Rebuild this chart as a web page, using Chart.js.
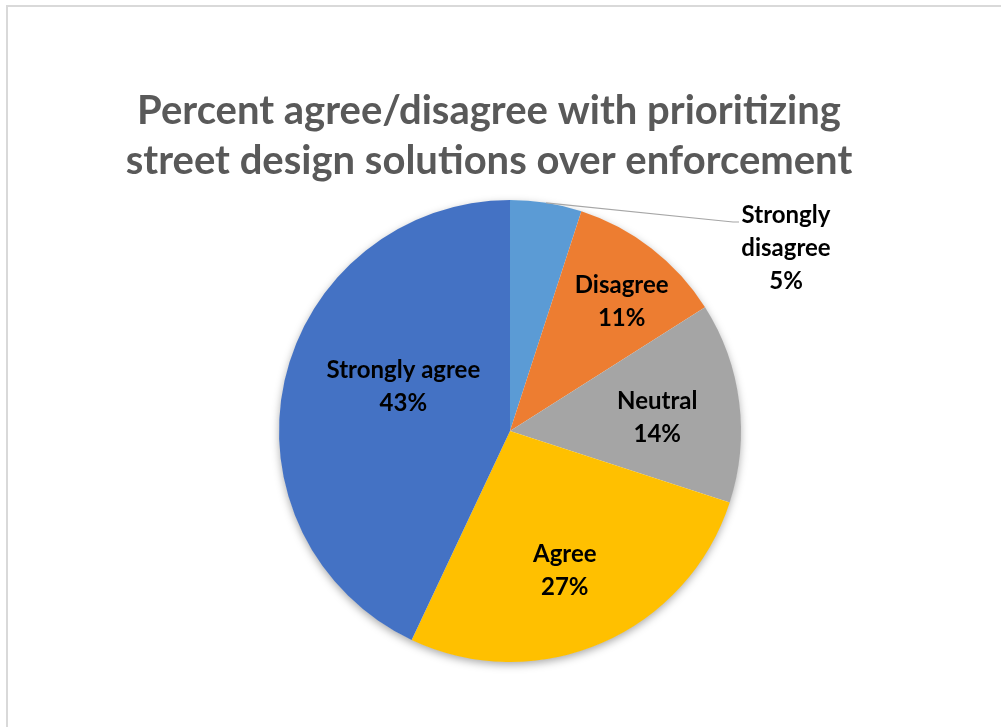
<!DOCTYPE html>
<html>
<head>
<meta charset="utf-8">
<script src="https://cdn.jsdelivr.net/npm/chart.js@4.4.1/dist/chart.umd.min.js"></script>
<style>
  html, body { margin: 0; padding: 0; background: #fff; }
  #wrap { width: 1001px; height: 727px; position: relative; }
</style>
</head>
<body>
<div id="wrap"><canvas id="pie" width="1001" height="727"></canvas></div>
<script>
// data
const categories = ['Strongly disagree', 'Disagree', 'Neutral', 'Agree', 'Strongly agree'];
const percents   = [5, 11, 14, 27, 43];
const colors     = ['#5B9BD5', '#ED7D31', '#A5A5A5', '#FFC000', '#4472C4'];
const titleLines = ['Percent agree/disagree with prioritizing', 'street design solutions over enforcement'];

// label placement: fraction of radius along slice bisector (+ angle tweak in degrees)
const labelRadius = [null, 0.74, 0.64, 0.65, 0.50];
const labelTweak  = [0, 3, 2, 2, 10];
// split label text per slice
const labelText = [
  ['Strongly', 'disagree'],
  ['Disagree'],
  ['Neutral'],
  ['Agree'],
  ['Strongly agree']
];

const FONT = 'Lato, "Open Sans", sans-serif';

const frame = {
  id: 'frame',
  beforeDraw(chart) {
    const ctx = chart.ctx;
    ctx.save();
    ctx.strokeStyle = '#d9d9d9';
    ctx.lineWidth = 2;
    ctx.strokeRect(7, 6, 1100, 900);
    ctx.fillStyle = '#595959';
    ctx.font = 'bold 40px ' + FONT;
    ctx.textAlign = 'center';
    ctx.textBaseline = 'middle';
    ctx.fillText(titleLines[0], 489, 111);
    ctx.fillText(titleLines[1], 489, 161);
    ctx.restore();
  },
  beforeDatasetsDraw(chart) {
    const arc = chart.getDatasetMeta(0).data[0];
    if (!arc) return;
    const ctx = chart.ctx;
    ctx.save();
    ctx.shadowColor = 'rgba(0,0,0,0.35)';
    ctx.shadowBlur = 9;
    ctx.shadowOffsetY = 3;
    ctx.fillStyle = '#fff';
    ctx.beginPath();
    ctx.arc(arc.x, arc.y, arc.outerRadius - 0.5, 0, Math.PI * 2);
    ctx.fill();
    ctx.restore();
  },
  afterDatasetsDraw(chart) {
    const ctx = chart.ctx;
    const arcs = chart.getDatasetMeta(0).data;
    ctx.save();
    ctx.fillStyle = '#000';
    ctx.font = 'bold 24px ' + FONT;
    ctx.textAlign = 'center';
    ctx.textBaseline = 'middle';
    arcs.forEach((a, i) => {
      const mid = (a.startAngle + a.endAngle) / 2;
      const lines = labelText[i].concat([percents[i] + '%']);
      const lh = 33;
      if (labelRadius[i] === null) {
        // outside label with leader line
        const sx = a.x + Math.cos(mid) * a.outerRadius;
        const sy = a.y + Math.sin(mid) * a.outerRadius;
        const tx = a.x + 276, ty = a.y - 183;
        ctx.strokeStyle = '#a6a6a6';
        ctx.lineWidth = 1.2;
        ctx.beginPath();
        ctx.moveTo(sx, sy);
        ctx.lineTo(tx - 53, ty - 26);
        ctx.lineTo(tx - 47, ty - 26);
        ctx.stroke();
        lines.forEach((t, k) => ctx.fillText(t, tx, ty + (k - 1) * lh));
        return;
      }
      const ang = mid + labelTweak[i] * Math.PI / 180;
      const cx = a.x + Math.cos(ang) * a.outerRadius * labelRadius[i];
      const cy = a.y + Math.sin(ang) * a.outerRadius * labelRadius[i];
      lines.forEach((t, k) => ctx.fillText(t, cx, cy + (k - (lines.length - 1) / 2) * lh));
    });
    ctx.restore();
  }
};

new Chart(document.getElementById('pie'), {
  type: 'pie',
  data: {
    labels: categories,
    datasets: [{
      data: percents,
      backgroundColor: colors,
      borderWidth: 0
    }]
  },
  options: {
    responsive: false,
    animation: false,
    layout: { padding: { top: 200, bottom: 65, left: 279, right: 260 } },
    plugins: {
      legend: { display: false },
      tooltip: { enabled: false },
      title: { display: false }
    }
  },
  plugins: [frame]
});
</script>
</body>
</html>
